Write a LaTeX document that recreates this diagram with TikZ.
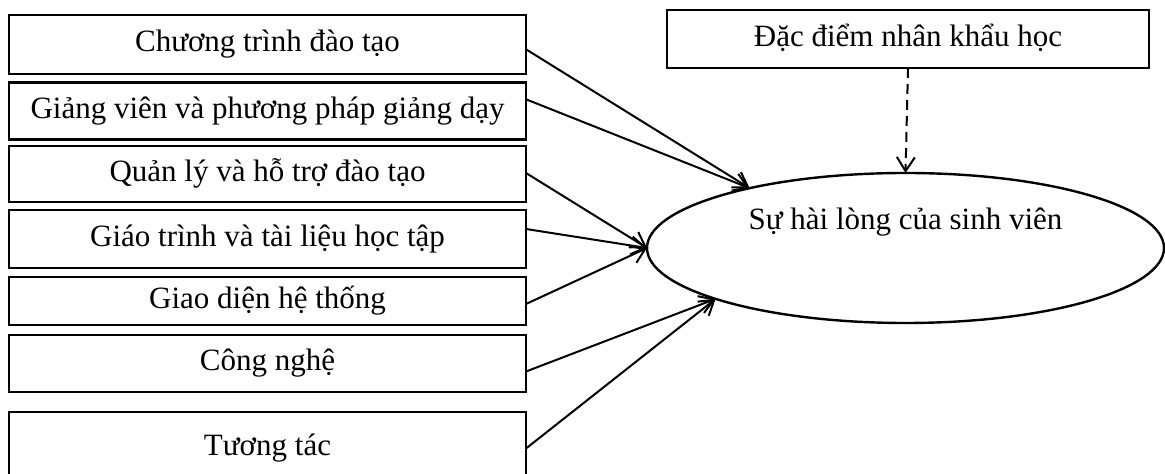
\documentclass[tikz,border=0pt]{standalone}
\usepackage{fontspec}
\setmainfont{Liberation Serif}
\usetikzlibrary{arrows.meta,shapes.geometric}
\begin{document}
\begin{tikzpicture}[x=0.5pt,y=-0.5pt,
  txt/.style={font=\fontsize{15.5}{18}\selectfont,text height=11pt,text depth=3.5pt},
  factor/.style={txt,draw,line width=1.4pt,rectangle,inner sep=0pt,outer sep=0pt,
    minimum width=258.5pt,minimum height=#1},
  outcome/.style={draw,line width=1.2pt,ellipse,inner sep=0pt,outer sep=0pt,
    minimum width=258.5pt,minimum height=75pt},
  link/.style={line width=1pt,-{Straight Barb[length=7pt,width=9pt,line width=1pt]}},
  moderator/.style={link,dash pattern=on 5pt off 3pt}]
\useasboundingbox (0,0) rectangle (1165,474);

% independent factors
\node[factor=29.5pt] (b1) at (267.5,44.5) {Chương trình đào tạo};
\node[factor=28.5pt] (b2) at (267.5,110.8) {Giảng viên và phương pháp giảng dạy};
\node[factor=28pt]   (b3) at (267.5,174) {Quản lý và hỗ trợ đào tạo};
\node[factor=29pt]   (b4) at (267.5,239) {Giáo trình và tài liệu học tập};
\node[factor=24pt]   (b5) at (267.5,301) {Giao diện hệ thống};
\node[factor=28.5pt] (b6) at (267.5,363.5) {Công nghệ};
\node[factor=36.5pt] (b7) at (267.5,448.5) {Tương tác};

% control variable
\node[factor=29pt,minimum width=241pt] (dem) at (908,39) {Đặc điểm nhân khẩu học};

% dependent variable
\node[outcome,label={[txt,yshift=12.75pt]center:Sự hài lòng của sinh viên}] (sat) at (905.5,248) {};

% paths
\draw[link] ([yshift=-2.4pt]b1.east) -- (sat.159.7);
\draw[link] ([yshift=5.75pt]b2.east) -- (sat.159.7);
\draw[link] ([yshift=0.5pt]b3.east) -- (sat.west);
\draw[link] ([yshift=5pt]b4.east) -- (sat.west);
\draw[link] ([yshift=-1.5pt]b5.east) -- (sat.west);
\draw[link] ([yshift=-4pt]b6.east) -- (sat.195);
\draw[link] (b7.east) -- (sat.195);
\draw[moderator] (dem.south) -- (sat.north);
\end{tikzpicture}
\end{document}
